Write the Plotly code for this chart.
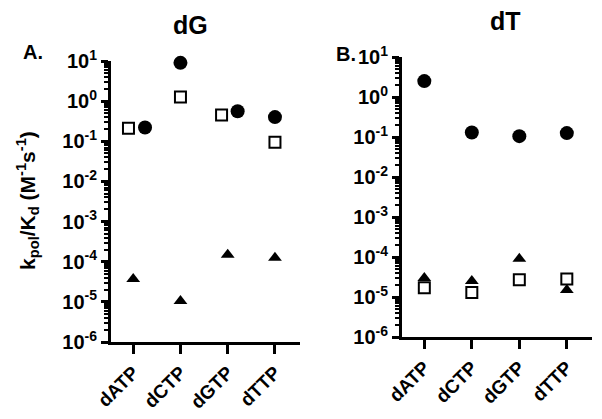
import plotly.graph_objects as go

# nucleotide categories
nucleotides = ["dATP", "dCTP", "dGTP", "dTTP"]

# kpol/Kd values (M^-1 s^-1)
dG_circle = [0.22, 9.0, 0.56, 0.40]
dG_square = [0.21, 1.26, 0.45, 0.095]
dG_triangle = [3.7e-5, 1.05e-5, 1.5e-4, 1.25e-4]

dT_circle = [2.5, 0.13, 0.105, 0.125]
dT_square = [1.7e-5, 1.3e-5, 2.7e-5, 2.8e-5]
dT_triangle = [3.0e-5, 2.5e-5, 9.0e-5, 1.5e-5]

# decades shown on the y axes
decades = [-6, -5, -4, -3, -2, -1, 0, 1]

# small horizontal nudges so overlapping markers don't hide each other (dG panel)
nudge_circle = [0.25, 0, 0.21, 0]
nudge_square = [-0.1, 0, -0.13, 0]

FONT = "Liberation Sans, Arial, sans-serif"
W, H = 602, 419

fig = go.Figure()

def add_series(vals, symbol, xaxis, yaxis, nudge=None, filled=True, size=13):
    xs = [i + (nudge[i] if nudge else 0) for i in range(len(vals))]
    marker = dict(symbol=symbol, size=size, color="black" if filled else "white",
                  line=dict(color="black", width=2 if not filled else 0))
    fig.add_trace(go.Scatter(x=xs, y=vals, mode="markers", marker=marker,
                             xaxis=xaxis, yaxis=yaxis, showlegend=False, cliponaxis=False))

add_series(dG_circle, "circle", "x", "y", nudge_circle, True, 14)
add_series(dG_square, "square", "x", "y", nudge_square, False, 11)
add_series(dG_triangle, "triangle-up", "x", "y", None, True, 12)

add_series(dT_circle, "circle", "x2", "y2", None, True, 14)
add_series(dT_square, "square", "x2", "y2", None, False, 11)
add_series(dT_triangle, "triangle-up", "x2", "y2", None, True, 12)

tick_text = ["10<sup>%d</sup>" % d for d in decades]
tick_vals = [10 ** d for d in decades]
minor_vals = [m * 10 ** d for d in decades[:-1] for m in range(2, 10)]

def yaxis_style(top_px, bottom_px, anchor):
    return dict(type="log", range=[-6, 1], domain=[1 - bottom_px / H, 1 - top_px / H],
                anchor=anchor, tickmode="array", tickvals=tick_vals, ticktext=tick_text,
                ticks="outside", ticklen=7, tickwidth=3, tickcolor="black",
                minor=dict(tickmode="array", tickvals=minor_vals, ticks="outside",
                           ticklen=4, tickwidth=1.5, tickcolor="black", showgrid=False),
                showline=True, linewidth=3, linecolor="black", showgrid=False,
                zeroline=False, automargin=False,
                tickfont=dict(family=FONT, size=20, color="black", weight="bold"))

def xaxis_style(left_px, right_px, anchor):
    return dict(range=[-0.47, 3.53], domain=[left_px / W, right_px / W], anchor=anchor,
                tickvals=[0, 1, 2, 3], ticktext=nucleotides, tickangle=-45,
                ticks="outside", ticklen=9, tickwidth=2.5, tickcolor="black",
                showline=True, linewidth=3, linecolor="black", showgrid=False,
                zeroline=False, automargin=False,
                tickfont=dict(family=FONT, size=19, color="black", weight="bold"))

fig.update_layout(
    width=W, height=H,
    margin=dict(l=0, r=0, t=0, b=0, autoexpand=False),
    plot_bgcolor="white", paper_bgcolor="white",
    xaxis=xaxis_style(111, 300, "y"),
    yaxis=yaxis_style(61, 342, "x"),
    xaxis2=xaxis_style(402, 592, "y2"),
    yaxis2=yaxis_style(57, 337, "x2"),
)

annots = [
    dict(text="dG", x=190 / W, y=1 - 25 / H, size=25, angle=0),
    dict(text="dT", x=505 / W, y=1 - 21 / H, size=25, angle=0),
    dict(text="A.", x=33 / W, y=1 - 52 / H, size=20, angle=0),
    dict(text="B.", x=346 / W, y=1 - 54 / H, size=20, angle=0),
    dict(text="k<sub>pol</sub>/K<sub>d</sub> (M<sup>-1</sup>s<sup>-1</sup>)",
         x=27 / W, y=1 - 201 / H, size=21, angle=-90),
]
for a in annots:
    fig.add_annotation(text=a["text"], x=a["x"], y=a["y"], xref="paper", yref="paper",
                       showarrow=False, xanchor="center", yanchor="middle", textangle=a["angle"],
                       font=dict(family=FONT, size=a["size"], color="black", weight="bold"))

# drop the default page margin so the figure sits at the window's top-left corner
fig.write_html("out.html", config={"displayModeBar": False},
               post_script="document.body.style.margin = '0';")
